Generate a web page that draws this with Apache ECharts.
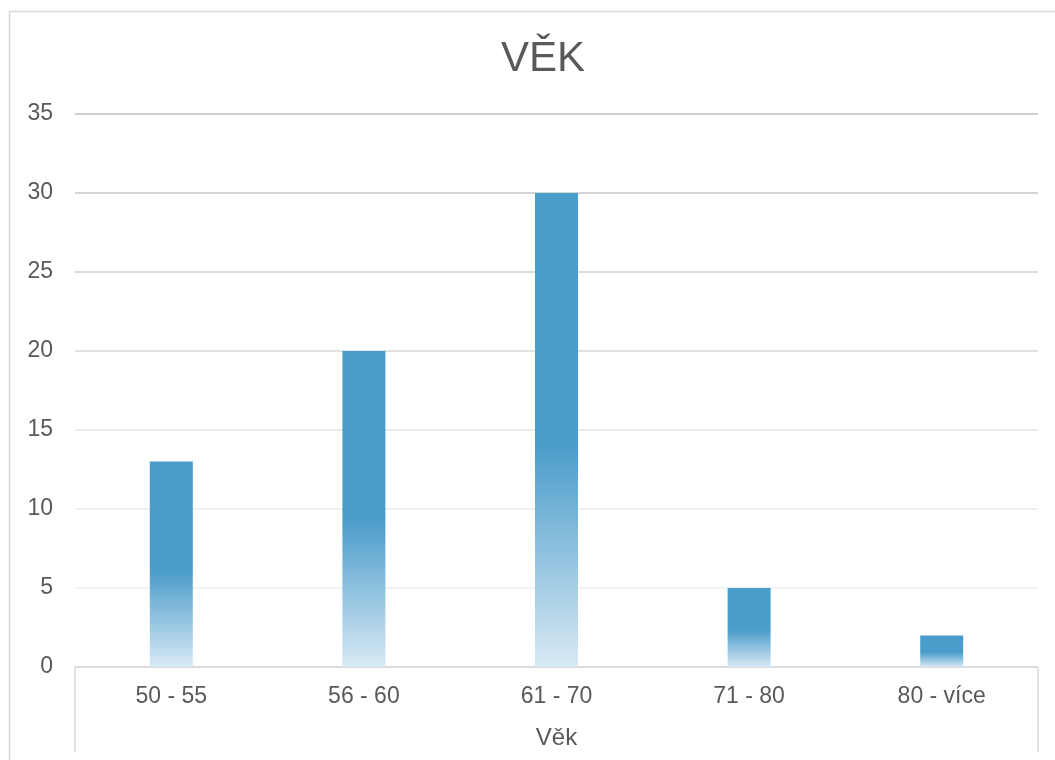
<!DOCTYPE html>
<html>
<head>
<meta charset="utf-8">
<style>
  html, body { margin: 0; padding: 0; background: #ffffff; }
  #chart { width: 1055px; height: 760px; }
</style>
<script src="https://cdn.jsdelivr.net/npm/echarts@6/dist/echarts.min.js"></script>
</head>
<body>
<div id="chart"></div>
<script>
// Age groups and respondent counts
const categories = ['50 - 55', '56 - 60', '61 - 70', '71 - 80', '80 - více'];
const counts = [13, 20, 30, 5, 2];
const yTicks = { min: 0, max: 35, interval: 5 };
const chartTitle = 'VĚK';
const axisTitle = 'Věk';

const FONT = '"Liberation Sans", Arial, sans-serif';
const TEXT = '#595959';
const W = 1055, H = 760;
const grid = { left: 75, right: 17, top: 114, bottom: 93 };
const plotLeft = grid.left, plotRight = W - grid.right, plotBottom = H - grid.bottom;

const chart = echarts.init(document.getElementById('chart'), null, { renderer: 'canvas' });

const barFill = new echarts.graphic.LinearGradient(0, 0, 0, 1, [
  { offset: 0, color: '#4a9cca' },
  { offset: 0.53, color: '#4a9cca' },
  { offset: 1, color: '#d8e9f4' }
]);

chart.setOption({
  animation: false,
  backgroundColor: '#ffffff',
  title: {
    text: chartTitle,
    left: 538,
    textAlign: 'center',
    top: 33,
    textStyle: { fontFamily: FONT, fontSize: 42, fontWeight: 'normal', color: TEXT }
  },
  grid: grid,
  xAxis: {
    type: 'category',
    data: categories,
    name: axisTitle,
    nameLocation: 'middle',
    nameGap: 59,
    nameTextStyle: { fontFamily: FONT, fontSize: 24, color: TEXT },
    axisLine: { show: true, lineStyle: { color: '#d9d9d9', width: 1.5 } },
    axisTick: { show: false },
    axisLabel: { fontFamily: FONT, fontSize: 23, color: TEXT, margin: 18 }
  },
  yAxis: {
    type: 'value',
    min: yTicks.min,
    max: yTicks.max,
    interval: yTicks.interval,
    axisLine: { show: false },
    axisTick: { show: false },
    axisLabel: { fontFamily: FONT, fontSize: 23, color: TEXT, margin: 22 },
    splitLine: {
      lineStyle: {
        width: 1.5,
        color: ['#d9d9d9', '#eeeeee', '#ebebeb', '#e4e4e4', '#d9d9d9', '#cfcfcf', '#c6c6c6', '#bfbfbf']
      }
    }
  },
  series: [{
    type: 'bar',
    data: counts,
    barWidth: 43,
    itemStyle: { color: barFill }
  }],
  graphic: [
    {
      type: 'rect',
      silent: true,
      shape: { x: 9.5, y: 11.5, width: 1100, height: 800 },
      style: { fill: 'none', stroke: '#d9d9d9', lineWidth: 1.5 }
    },
    {
      type: 'line',
      silent: true,
      shape: { x1: plotLeft, y1: plotBottom, x2: plotLeft, y2: 752 },
      style: { stroke: '#d9d9d9', lineWidth: 1.5 }
    },
    {
      type: 'line',
      silent: true,
      shape: { x1: plotRight, y1: plotBottom, x2: plotRight, y2: 752 },
      style: { stroke: '#d9d9d9', lineWidth: 1.5 }
    }
  ]
});
</script>
</body>
</html>
